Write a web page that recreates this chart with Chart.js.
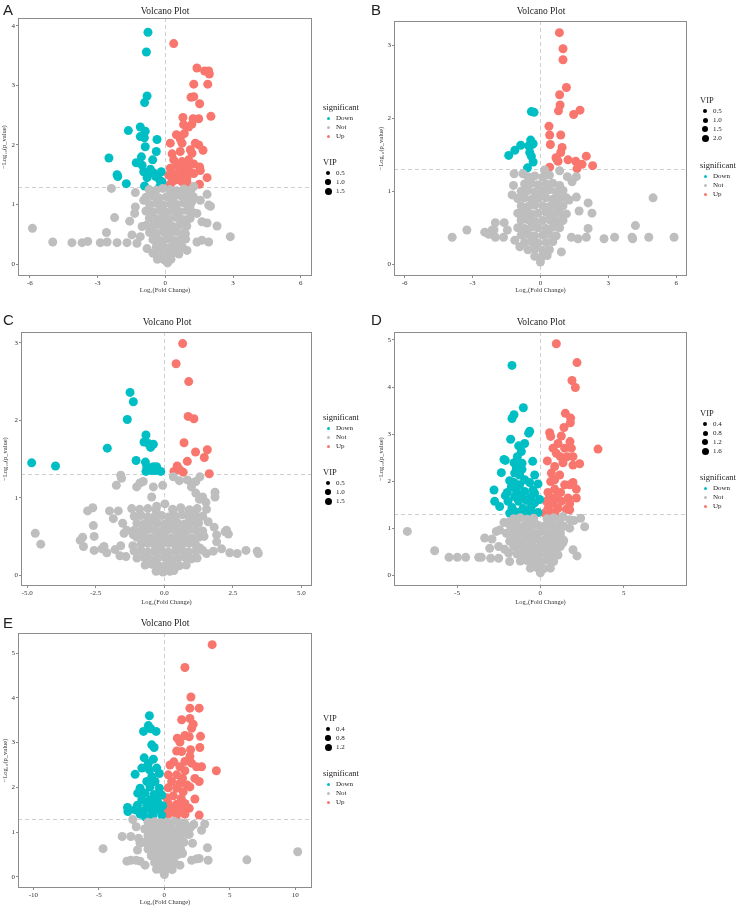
<!DOCTYPE html>
<html>
<head>
<meta charset="utf-8">
<script src="https://cdn.jsdelivr.net/npm/chart.js@4"></script>
<style>
body { margin: 0; width: 736px; height: 908px; position: relative; background: #fff; overflow: hidden; font-family: "Liberation Serif", serif; color: #222; }
canvas { position: absolute; }
.t { position: absolute; white-space: nowrap; line-height: 1; will-change: transform; }
.d { position: absolute; border-radius: 50%; }
</style>
</head>
<body>
<script>
// -log10(0.05) cut-off and fold change 0 guide
const pCut = 1.3;

// ---- panel A ----
const aX = [-6.53, 6.5], aY = [-0.2, 4.13];
const aXTicks = [-6, -3, 0, 3, 6], aYTicks = [0, 1, 2, 3, 4];
const aVip = ["0.5", "1.0", "1.5"];
const aDown = [[-0.77,3.89],[-0.84,3.56],[-0.81,2.82],[-0.92,2.71],[-1.64,2.24],[-1.11,2.30],[-0.89,2.23],[-1.11,2.14],[-0.93,2.12],[-0.37,2.09],[-0.89,1.97],[-0.40,1.89],[-2.50,1.78],[-1.06,1.80],[-0.56,1.75],[-1.29,1.70],[-1.03,1.66],[-2.14,1.50],[-2.11,1.47],[-0.96,1.55],[-0.66,1.59],[-0.52,1.53],[-0.37,1.48],[-0.81,1.45],[-0.18,1.55],[-0.25,1.41],[-1.73,1.35],[-0.92,1.31],[-0.43,1.47],[-0.15,1.38],[-0.74,1.52],[-0.25,1.30]];
const aUp = [[0.37,3.70],[1.40,3.29],[1.74,3.24],[1.95,3.19],[1.92,3.24],[1.26,3.02],[1.88,3.02],[1.14,2.80],[1.26,2.81],[1.52,2.69],[2.02,2.48],[0.78,2.46],[1.23,2.44],[1.48,2.44],[0.81,2.34],[1.03,2.30],[1.18,2.35],[0.84,2.19],[0.49,2.17],[0.66,2.10],[0.74,2.03],[0.22,2.03],[1.33,2.03],[1.48,2.00],[1.67,1.91],[1.11,1.92],[0.66,1.89],[0.30,1.85],[1.18,1.86],[0.37,1.75],[0.74,1.72],[1.03,1.75],[0.52,1.66],[0.89,1.66],[1.26,1.68],[1.52,1.63],[0.22,1.61],[0.66,1.61],[1.03,1.58],[1.55,1.57],[0.37,1.52],[0.81,1.52],[1.26,1.52],[0.15,1.49],[0.59,1.47],[0.96,1.45],[1.85,1.45],[0.30,1.38],[0.74,1.38],[0.44,1.41],[1.51,1.34],[0.22,1.34],[0.96,1.37]];
const aNot = [[-5.89,0.60],[-4.99,0.37],[-4.14,0.36],[-3.69,0.36],[-3.44,0.38],[-2.88,0.36],[-2.58,0.37],[-2.14,0.36],[-2.61,0.53],[-2.25,0.78],[-2.39,1.27],[-1.70,0.36],[-1.48,0.49],[-1.58,0.72],[-1.33,1.20],[-1.33,0.96],[-1.36,0.85],[-1.26,0.35],[-0.96,1.07],[-1.03,0.63],[-1.11,0.46],[-0.81,0.26],[2.88,0.46],[2.29,0.64],[1.85,0.69],[1.92,0.99],[2.00,0.97],[1.85,1.17],[1.55,1.07],[1.62,0.71],[1.40,0.37],[1.62,0.40],[1.92,0.37],[1.40,0.85],[1.18,1.05],[0.96,0.74],[0.89,0.51],[0.96,0.23],[1.26,1.30],[0.99,1.19],
  [-0.72,1.25],[-0.41,1.24],[-0.12,1.27],[0.2,1.25],[0.49,1.23],[0.82,1.26],[1.12,1.22],
  [-0.86,1.12],[-0.55,1.14],[-0.26,1.11],[0.06,1.13],[0.36,1.12],[0.66,1.15],[0.95,1.1],[1.24,1.13],
  [-0.7,1.0],[-0.4,1.02],[-0.1,0.99],[0.21,1.01],[0.5,1.0],[0.8,1.03],[1.1,0.98],
  [-0.86,0.89],[-0.56,0.88],[-0.24,0.9],[0.06,0.87],[0.35,0.9],[0.65,0.88],[0.96,0.9],[1.25,0.86],
  [-0.71,0.77],[-0.4,0.76],[-0.1,0.78],[0.2,0.76],[0.5,0.78],[0.8,0.75],[1.1,0.77],
  [-0.85,0.65],[-0.55,0.64],[-0.25,0.66],[0.05,0.65],[0.35,0.63],[0.65,0.66],[0.95,0.64],
  [-0.7,0.53],[-0.4,0.52],[-0.1,0.54],[0.2,0.52],[0.5,0.54],[0.8,0.52],
  [-0.55,0.41],[-0.25,0.4],[0.05,0.42],[0.35,0.4],[0.65,0.41],[0.9,0.42],
  [-0.4,0.29],[-0.1,0.3],[0.2,0.28],[0.5,0.3],[0.75,0.29],
  [-0.55,0.18],[-0.25,0.18],[0.05,0.17],[0.35,0.19],[0.6,0.17],
  [-0.35,0.08],[-0.05,0.07],[0.25,0.08],[0.1,0.02]];

// ---- panel B ----
const bX = [-6.47, 6.48], bY = [-0.16, 3.33];
const bXTicks = [-6, -3, 0, 3, 6], bYTicks = [0, 1, 2, 3];
const bVip = ["0.5", "1.0", "1.5", "2.0"];
const bDown = [[-0.40,2.09],[-0.28,2.08],[-0.43,1.70],[-0.37,1.64],[-0.87,1.63],[-1.13,1.56],[-1.40,1.49],[-0.52,1.62],[-0.47,1.53],[-0.40,1.48],[-0.32,1.40],[-0.57,1.32],[-0.32,1.65]];
const bUp = [[0.84,3.17],[1.00,2.95],[1.00,2.80],[1.15,2.42],[0.85,2.32],[0.87,2.18],[0.80,2.10],[1.75,2.11],[1.47,2.05],[0.38,1.89],[0.41,1.77],[0.90,1.77],[0.44,1.64],[0.96,1.60],[0.90,1.53],[2.03,1.48],[0.69,1.46],[1.22,1.43],[1.56,1.41],[1.84,1.37],[0.78,1.41],[2.31,1.35],[0.41,1.33],[1.62,1.31],[0.72,1.44]];
const bNot = [[-3.90,0.37],[-3.25,0.47],[-2.46,0.44],[-2.28,0.41],[-2.13,0.47],[-2.05,0.47],[-1.99,0.57],[-1.99,0.37],[-1.63,0.37],[-1.60,0.57],[-1.46,0.47],[-1.13,0.33],[-1.25,0.95],[-1.19,1.08],[-1.16,1.24],[-0.91,0.24],[-0.84,0.65],[-0.77,1.24],[4.98,0.91],[4.20,0.53],[3.28,0.37],[2.81,0.35],[4.05,0.37],[4.08,0.35],[4.79,0.37],[5.91,0.37],[2.28,0.70],[2.11,0.84],[2.11,0.49],[2.03,0.37],[1.66,0.35],[1.71,0.73],[1.37,0.37],[1.59,0.92],[1.40,1.13],[1.59,1.20],[1.19,1.20],[0.85,1.28],[1.27,0.88],[0.93,0.17],[0.71,0.79],[0.19,1.29],
  [-0.55,1.2],[-0.25,1.21],[0.1,1.19],[0.4,1.22],
  [-0.7,1.1],[-0.4,1.11],[-0.1,1.09],[0.25,1.1],[0.55,1.11],[0.85,1.08],
  [-0.85,1.0],[-0.55,1.01],[-0.25,0.99],[0.1,1.0],[0.4,1.02],[0.7,0.99],[1.0,1.01],
  [-1.0,0.9],[-0.7,0.91],[-0.4,0.89],[-0.1,0.9],[0.25,0.91],[0.55,0.89],[0.85,0.9],[1.15,0.91],
  [-0.85,0.8],[-0.55,0.79],[-0.25,0.81],[0.1,0.8],[0.4,0.79],[0.7,0.81],[1.0,0.8],
  [-1.0,0.7],[-0.7,0.71],[-0.4,0.69],[-0.1,0.7],[0.25,0.71],[0.55,0.69],[0.85,0.7],[1.15,0.69],
  [-0.85,0.6],[-0.55,0.61],[-0.25,0.59],[0.1,0.6],[0.4,0.61],[0.7,0.59],[1.0,0.6],
  [-1.0,0.5],[-0.7,0.49],[-0.4,0.51],[-0.1,0.5],[0.25,0.49],[0.55,0.51],[0.85,0.5],
  [-0.85,0.4],[-0.55,0.41],[-0.25,0.39],[0.1,0.4],[0.4,0.41],[0.7,0.39],
  [-0.7,0.3],[-0.4,0.31],[-0.1,0.29],[0.25,0.3],[0.55,0.31],
  [-0.55,0.2],[-0.25,0.21],[0.1,0.19],[0.4,0.2],
  [-0.25,0.11],[0.05,0.1],[0.3,0.12],[0.0,0.03]];

// ---- panel C ----
const cX = [-5.23, 5.39], cY = [-0.14, 3.14];
const cXTicks = [-5, -2.5, 0, 2.5, 5], cYTicks = [0, 1, 2, 3];
const cVip = ["0.5", "1.0", "1.5"];
const cDown = [[-4.84,1.45],[-3.97,1.41],[-1.25,2.36],[-1.13,2.24],[-1.35,2.01],[-2.08,1.64],[-0.67,1.81],[-0.74,1.72],[-0.58,1.70],[-0.40,1.69],[-0.50,1.65],[-1.03,1.48],[-0.69,1.46],[-0.64,1.40],[-0.40,1.40],[-0.28,1.40],[-0.67,1.34],[-0.46,1.35],[-0.13,1.34],[-0.33,1.35]];
const cUp = [[0.67,2.99],[0.43,2.73],[0.89,2.50],[0.87,2.05],[1.08,2.02],[0.72,1.71],[1.14,1.59],[1.57,1.62],[1.46,1.52],[0.84,1.47],[0.47,1.41],[0.35,1.34],[0.69,1.33],[1.64,1.31],[0.57,1.36]];
const cNot = [[-4.71,0.54],[-4.51,0.40],[-3.07,0.45],[-2.98,0.49],[-2.95,0.37],[-2.80,0.83],[-2.61,0.87],[-2.59,0.64],[-2.56,0.50],[-2.56,0.32],[-2.28,0.34],[-2.10,0.29],[-2.20,0.37],[-2.00,0.83],[-1.86,0.73],[-1.75,1.16],[-1.68,0.83],[-1.59,1.29],[-1.56,1.25],[-1.80,0.33],[-1.59,0.38],[-1.40,0.24],[-1.62,0.25],[-1.47,0.54],[-1.52,0.67],[-1.37,0.58],[-1.19,0.86],[-1.13,0.52],[-1.01,1.14],[-0.89,1.19],[-0.77,1.21],[-1.15,0.38],[1.85,1.07],[1.85,1.01],[1.52,0.94],[1.40,1.01],[1.28,0.98],[1.15,1.06],[0.99,1.14],[1.30,1.27],[1.15,1.21],[1.00,1.19],[0.84,1.23],[0.55,1.22],[0.33,1.27],[1.82,0.62],[1.91,0.52],[1.91,0.43],[2.27,0.58],[2.34,0.53],[2.22,0.56],[2.09,0.34],[2.39,0.29],[2.66,0.28],[2.98,0.32],[3.39,0.31],[3.43,0.28],[1.79,0.31],[1.54,0.28],[1.45,0.50],[1.30,0.35],[1.60,0.69],[1.54,0.85],[0.94,0.84],[0.33,0.84],[0.02,0.92],[-0.06,1.16],[-0.28,0.89],[-0.40,1.14],[-0.46,1.01],
  [-0.9,0.85],[-0.6,0.86],[-0.3,0.84],[0.3,0.85],[0.6,0.87],[0.9,0.84],[1.2,0.86],
  [-1.1,0.76],[-0.85,0.77],[-0.6,0.75],[-0.35,0.76],[-0.1,0.77],[0.15,0.75],[0.4,0.76],[0.65,0.78],[0.9,0.75],[1.15,0.77],[1.4,0.76],
  [-1.0,0.67],[-0.75,0.66],[-0.5,0.68],[-0.25,0.67],[0.0,0.66],[0.25,0.68],[0.5,0.67],[0.75,0.66],[1.0,0.68],[1.25,0.67],
  [-1.1,0.58],[-0.85,0.57],[-0.6,0.59],[-0.35,0.58],[-0.1,0.57],[0.15,0.59],[0.4,0.58],[0.65,0.57],[0.9,0.59],[1.15,0.58],[1.4,0.57],
  [-1.0,0.49],[-0.75,0.5],[-0.5,0.48],[-0.25,0.49],[0.0,0.5],[0.25,0.48],[0.5,0.49],[0.75,0.5],[1.0,0.48],[1.25,0.49],
  [-0.85,0.4],[-0.6,0.41],[-0.35,0.39],[-0.1,0.4],[0.15,0.41],[0.4,0.39],[0.65,0.4],[0.9,0.41],[1.15,0.39],
  [-1.1,0.31],[-0.85,0.32],[-0.6,0.3],[-0.35,0.31],[-0.1,0.32],[0.15,0.3],[0.4,0.31],[0.65,0.32],[0.9,0.3],[1.15,0.31],[1.4,0.32],
  [-1.0,0.22],[-0.75,0.23],[-0.5,0.21],[-0.25,0.22],[0.0,0.23],[0.25,0.21],[0.5,0.22],[0.75,0.23],[1.0,0.21],[1.2,0.22],
  [-0.7,0.13],[-0.45,0.14],[-0.2,0.12],[0.05,0.13],[0.3,0.14],[0.55,0.12],[0.8,0.13],
  [-0.3,0.05],[-0.05,0.04],[0.2,0.05],[0.35,0.06]];

// ---- panel D ----
const dX = [-8.78, 8.8], dY = [-0.23, 5.17];
const dXTicks = [-5, 0, 5], dYTicks = [0, 1, 2, 3, 4, 5];
const dVip = ["0.4", "0.8", "1.2", "1.6"];
const dDown = [[-1.70,4.46],[-1.02,3.56],[-1.58,3.41],[-1.70,3.33],[-0.64,3.06],[-0.70,3.02],[-1.78,2.89],[-0.94,2.80],[-1.30,2.75],[-1.14,2.63],[-1.38,2.52],[-2.18,2.46],[-2.10,2.44],[-1.58,2.39],[-1.10,2.38],[-0.46,2.42],[-2.34,2.18],[-1.44,2.27],[-1.10,2.25],[-1.54,2.17],[-1.24,2.13],[-0.34,2.13],[-1.84,2.01],[-0.94,2.03],[-0.64,1.97],[-1.58,1.97],[-0.14,1.94],[-2.78,1.81],[-1.98,1.76],[-1.44,1.80],[-0.94,1.78],[-0.44,1.81],[-2.10,1.69],[-1.54,1.67],[-1.14,1.69],[-0.58,1.66],[-0.04,1.61],[-2.74,1.57],[-1.94,1.57],[-1.30,1.57],[-0.84,1.59],[-0.34,1.54],[-2.44,1.46],[-1.70,1.44],[-1.04,1.42],[-0.54,1.46],[-1.84,1.32],[-1.34,1.33],[-0.58,1.35],[-0.14,1.33],[-1.54,1.35],[-0.84,1.32],[-0.34,1.74],[-1.74,1.88],[-1.24,1.92]];
const dUp = [[0.96,4.92],[2.20,4.52],[1.90,4.14],[2.10,3.99],[1.50,3.44],[1.82,3.34],[1.80,3.24],[1.42,3.14],[0.56,3.03],[0.62,2.95],[1.26,2.96],[3.46,2.68],[1.78,2.84],[1.06,2.80],[0.76,2.70],[1.46,2.70],[1.86,2.70],[1.62,2.52],[1.20,2.52],[0.96,2.59],[1.96,2.52],[0.42,2.43],[1.36,2.39],[2.36,2.37],[1.96,2.34],[0.86,2.31],[0.66,2.17],[1.16,2.13],[0.62,1.99],[0.86,2.03],[1.46,1.92],[1.96,1.97],[1.76,1.92],[2.16,1.83],[0.86,1.83],[0.46,1.76],[1.22,1.76],[0.56,1.66],[0.96,1.67],[1.66,1.64],[2.16,1.64],[0.36,1.57],[0.76,1.53],[1.26,1.57],[1.76,1.52],[0.46,1.42],[1.06,1.42],[1.56,1.40],[0.56,1.35],[0.26,1.32],[0.86,1.33],[1.76,1.39]];
const dNot = [[-7.98,0.93],[-6.34,0.52],[-5.48,0.38],[-4.98,0.38],[-4.48,0.38],[-3.70,0.38],[-3.54,0.38],[-2.98,0.36],[-3.34,0.79],[-3.04,0.57],[-2.90,0.77],[-2.64,0.93],[-2.44,0.96],[-2.50,0.61],[-2.14,0.55],[-2.50,0.36],[-1.84,0.29],[-1.90,0.47],[-2.04,0.89],[-1.84,0.72],[-1.54,0.86],[-2.18,1.12],[-1.84,1.14],[-1.44,1.18],[1.76,1.00],[2.66,1.03],[2.42,1.21],[2.02,1.16],[1.76,1.18],[1.36,1.25],[1.96,0.54],[2.20,0.41],[1.36,0.69],[1.06,0.43],[1.22,0.82],[0.86,0.96],[0.62,0.29],
  [-1.6,1.2],[-1.2,1.22],[-0.8,1.19],[-0.4,1.21],[0.4,1.2],[0.8,1.22],[1.2,1.19],
  [-1.8,1.05],[-1.4,1.06],[-1.0,1.04],[-0.6,1.05],[-0.2,1.07],[0.2,1.04],[0.6,1.06],[1.0,1.05],[1.4,1.04],
  [-1.6,0.9],[-1.2,0.91],[-0.8,0.89],[-0.4,0.9],[0.0,0.92],[0.4,0.89],[0.8,0.9],[1.2,0.91],
  [-1.8,0.75],[-1.4,0.76],[-1.0,0.74],[-0.6,0.75],[-0.2,0.77],[0.2,0.74],[0.6,0.75],[1.0,0.76],[1.4,0.74],
  [-1.6,0.6],[-1.2,0.61],[-0.8,0.59],[-0.4,0.6],[0.0,0.62],[0.4,0.59],[0.8,0.6],[1.2,0.61],
  [-1.4,0.45],[-1.0,0.46],[-0.6,0.44],[-0.2,0.45],[0.2,0.47],[0.6,0.44],[1.0,0.45],
  [-1.2,0.3],[-0.8,0.31],[-0.4,0.29],[0.0,0.3],[0.4,0.32],[0.8,0.29],
  [-0.6,0.15],[-0.2,0.16],[0.2,0.14],[0.6,0.15],[0.0,0.05]];

// ---- panel E ----
const eX = [-11.17, 11.27], eY = [-0.25, 5.45];
const eXTicks = [-10, -5, 0, 5, 10], eYTicks = [0, 1, 2, 3, 4, 5];
const eVip = ["0.4", "0.8", "1.2"];
const eDown = [[-1.14,3.60],[-1.22,3.38],[-1.59,3.25],[-1.04,3.31],[-0.63,3.25],[-0.96,2.95],[-0.78,2.89],[-1.54,2.66],[-0.84,2.63],[-1.22,2.54],[-1.72,2.43],[-0.58,2.43],[-1.14,2.39],[-2.23,2.29],[-0.38,2.31],[-0.96,2.24],[-1.34,2.13],[-0.71,2.13],[-1.85,1.98],[-1.09,2.01],[-0.38,1.98],[-2.03,1.87],[-1.47,1.87],[-0.78,1.84],[-0.20,1.83],[-1.72,1.72],[-1.09,1.72],[-0.53,1.69],[-2.05,1.60],[-1.34,1.60],[-0.78,1.60],[-0.13,1.59],[-2.81,1.55],[-2.78,1.46],[-2.23,1.50],[-1.59,1.47],[-0.96,1.47],[-0.38,1.49],[-1.47,1.34],[-0.89,1.37],[-0.20,1.38],[-1.85,1.40]];
const eUp = [[3.65,5.19],[1.57,4.68],[2.03,4.02],[1.95,3.77],[2.66,3.77],[1.32,3.51],[1.95,3.54],[2.20,3.41],[2.08,3.32],[1.57,3.16],[1.90,3.13],[2.76,3.14],[0.99,3.10],[1.19,3.01],[2.71,2.89],[2.00,2.84],[1.32,2.80],[0.94,2.81],[1.95,2.69],[0.73,2.57],[1.57,2.58],[2.08,2.54],[2.84,2.46],[2.46,2.46],[3.97,2.37],[0.43,2.50],[1.19,2.46],[1.57,2.37],[0.30,2.28],[0.94,2.28],[1.39,2.20],[2.33,2.20],[2.66,2.13],[0.56,2.13],[1.19,2.09],[1.75,2.05],[1.95,2.01],[0.30,1.99],[0.94,1.98],[1.44,1.90],[0.18,1.77],[0.68,1.81],[2.33,1.74],[1.29,1.75],[0.30,1.64],[0.94,1.62],[1.57,1.64],[0.18,1.53],[0.68,1.51],[1.32,1.51],[1.90,1.53],[0.30,1.40],[0.94,1.38],[1.57,1.40],[2.66,1.38],[0.56,1.47]];
const eNot = [[-4.68,0.63],[-3.22,0.90],[-2.56,0.90],[-2.41,1.28],[-2.15,1.12],[-2.86,0.35],[-2.56,0.37],[-2.15,0.37],[-1.85,0.35],[-1.47,0.26],[-2.05,0.60],[-1.97,0.86],[-1.85,0.75],[10.18,0.56],[6.30,0.38],[3.34,0.37],[3.29,0.65],[2.66,0.41],[2.46,0.40],[2.08,0.37],[2.15,0.75],[1.39,0.52],[1.19,0.26],[3.08,1.18],[2.84,1.04],[2.25,1.17],[1.82,0.95],[1.57,1.19],[2.0,1.1],[1.9,0.95],
  [-1.25,1.22],[-0.75,1.23],[-0.25,1.21],[0.25,1.22],[0.75,1.24],[1.25,1.21],
  [-1.5,1.07],[-1.0,1.08],[-0.5,1.06],[0.0,1.07],[0.5,1.09],[1.0,1.06],[1.5,1.07],
  [-1.25,0.92],[-0.75,0.93],[-0.25,0.91],[0.25,0.92],[0.75,0.94],[1.25,0.91],
  [-1.5,0.77],[-1.0,0.78],[-0.5,0.76],[0.0,0.77],[0.5,0.79],[1.0,0.76],[1.5,0.77],
  [-1.25,0.62],[-0.75,0.63],[-0.25,0.61],[0.25,0.62],[0.75,0.64],[1.25,0.61],
  [-1.0,0.47],[-0.5,0.48],[0.0,0.46],[0.5,0.47],[1.0,0.49],
  [-0.75,0.32],[-0.25,0.33],[0.25,0.31],[0.75,0.32],
  [-0.6,0.17],[-0.25,0.17],[0.25,0.18],[0.6,0.16],[0.0,0.05]];

const sigNames = ["Down", "Not", "Up"];
const colDown = "#00BFC4", colNot = "#BEBEBE", colUp = "#F8766D";
const frameCol = "#8c8c8c";
const tickFont = { family: "Liberation Serif", size: 7 };

function txt(s, x, y, size, center, family) {
  let d = document.createElement("div");
  d.className = "t";
  d.textContent = s;
  d.style.left = x + "px";
  d.style.top = y + "px";
  d.style.fontSize = size + "px";
  d.style.transform = center ? "translate(-50%,-50%)" : "translateY(-50%)";
  if (family) d.style.fontFamily = family;
  document.body.appendChild(d);
}

function dot(x, y, size, color) {
  let d = document.createElement("div");
  d.className = "d";
  d.style.left = (x - size / 2) + "px";
  d.style.top = (y - size / 2) + "px";
  d.style.width = d.style.height = size + "px";
  d.style.background = color;
  document.body.appendChild(d);
}

// legend blocks: significant colours and VIP sizes
function sigLegend(x, y) {
  txt("significant", x, y, 8.5);
  [colDown, colNot, colUp].forEach((c, i) => {
    dot(x + 5, y + 11 + 9 * i, 3, c);
    txt(sigNames[i], x + 13, y + 11 + 9 * i, 7);
  });
}

function vipLegend(x, y, labels, sizes) {
  txt("VIP", x, y, 8.5);
  labels.forEach((l, i) => {
    dot(x + 5, y + 11 + 9 * i, sizes[i], "#000");
    txt(l, x + 13, y + 11 + 9 * i, 7);
  });
}

const guides = {
  id: "guides",
  beforeDatasetsDraw(chart) {
    let { ctx, chartArea: a, scales: { x, y } } = chart;
    let px = Math.round(x.getPixelForValue(0)) + 0.5;
    let py = Math.round(y.getPixelForValue(pCut)) + 0.5;
    ctx.save();
    ctx.strokeStyle = "#cfcfcf";
    ctx.lineWidth = 1;
    ctx.setLineDash([4, 3]);
    ctx.beginPath();
    ctx.moveTo(px, a.top); ctx.lineTo(px, a.bottom);
    ctx.moveTo(a.left, py); ctx.lineTo(a.right, py);
    ctx.stroke();
    ctx.restore();
  },
  afterDraw(chart) {
    let { ctx, chartArea: a } = chart;
    ctx.save();
    ctx.strokeStyle = frameCol;
    ctx.lineWidth = 1;
    ctx.strokeRect(a.left + 0.5, a.top + 0.5, a.right - a.left - 1, a.bottom - a.top - 1);
    ctx.restore();
  }
};

function volcano(p) {
  let [bx, by, bw, bh] = p.box;
  let [L, T, R, B] = p.frame;
  let c = document.createElement("canvas");
  c.width = bw; c.height = bh;
  c.style.left = bx + "px"; c.style.top = by + "px";
  document.body.appendChild(c);
  let pts = a => a.map(d => ({ x: d[0], y: d[1] }));
  let axis = {
    type: "linear",
    grid: { drawOnChartArea: false, tickLength: 2, color: frameCol },
    border: { display: false },
    ticks: { font: tickFont, color: "#333", padding: 1 }
  };
  new Chart(c, {
    type: "scatter",
    data: {
      datasets: [
        { data: pts(p.not), backgroundColor: colNot },
        { data: pts(p.down), backgroundColor: colDown },
        { data: pts(p.up), backgroundColor: colUp }
      ]
    },
    options: {
      responsive: false,
      animation: false,
      events: [],
      layout: { padding: { top: T - by, right: bx + bw - R, left: 0, bottom: 0 } },
      plugins: { legend: { display: false }, tooltip: { enabled: false } },
      elements: { point: { radius: 4.5, borderWidth: 0 } },
      scales: {
        x: {
          ...axis, min: p.xr[0], max: p.xr[1],
          afterBuildTicks: s => { s.ticks = p.xt.map(v => ({ value: v })); },
          afterFit: s => { s.height = by + bh - B; },
          ticks: { ...axis.ticks, maxRotation: 0, callback: v => p.fmt ? v.toFixed(1) : String(v) },
          title: { display: true, text: "Log₂(Fold Change)", padding: 0, color: "#333", font: { family: "Liberation Serif", size: 6.5 } }
        },
        y: {
          ...axis, min: p.yr[0], max: p.yr[1],
          afterBuildTicks: s => { s.ticks = p.yt.map(v => ({ value: v })); },
          afterFit: s => { s.width = L - bx; },
          title: { display: true, text: "−Log₁₀(p_value)", padding: 0, color: "#333", font: { family: "Liberation Serif", size: 6.5 } }
        }
      }
    },
    plugins: [guides]
  });
  txt("Volcano Plot", (L + R) / 2, p.titleY, 9.5, true);
  txt(p.tag, p.tagPos[0], p.tagPos[1], 15, false, "Liberation Sans");
}

volcano({ box: [0, 0, 320, 294], frame: [18, 18, 312, 276], xr: aX, yr: aY, xt: aXTicks, yt: aYTicks, down: aDown, up: aUp, not: aNot, titleY: 12, tag: "A", tagPos: [3, 9] });
sigLegend(323, 107);
vipLegend(323, 162, aVip, [4, 5.5, 7]);

volcano({ box: [377, 0, 318, 294], frame: [394, 21, 687, 276], xr: bX, yr: bY, xt: bXTicks, yt: bYTicks, down: bDown, up: bUp, not: bNot, titleY: 12, tag: "B", tagPos: [371, 9] });
vipLegend(700, 100, bVip, [4, 5, 6, 7]);
sigLegend(700, 165);

volcano({ box: [1, 310, 319, 296], frame: [21, 332, 312, 586], xr: cX, yr: cY, xt: cXTicks, yt: cYTicks, down: cDown, up: cUp, not: cNot, fmt: true, titleY: 323, tag: "C", tagPos: [3, 319] });
sigLegend(323, 417);
vipLegend(323, 472, cVip, [4, 5.5, 7]);

volcano({ box: [377, 310, 318, 296], frame: [394, 332, 687, 586], xr: dX, yr: dY, xt: dXTicks, yt: dYTicks, down: dDown, up: dUp, not: dNot, titleY: 323, tag: "D", tagPos: [371, 319] });
vipLegend(700, 413, dVip, [4, 5, 6, 7]);
sigLegend(700, 477);

volcano({ box: [1, 620, 319, 286], frame: [18, 633, 312, 888], xr: eX, yr: eY, xt: eXTicks, yt: eYTicks, down: eDown, up: eUp, not: eNot, titleY: 624, tag: "E", tagPos: [3, 622] });
vipLegend(323, 718, eVip, [4, 5.5, 7]);
sigLegend(323, 773);
</script>
</body>
</html>
